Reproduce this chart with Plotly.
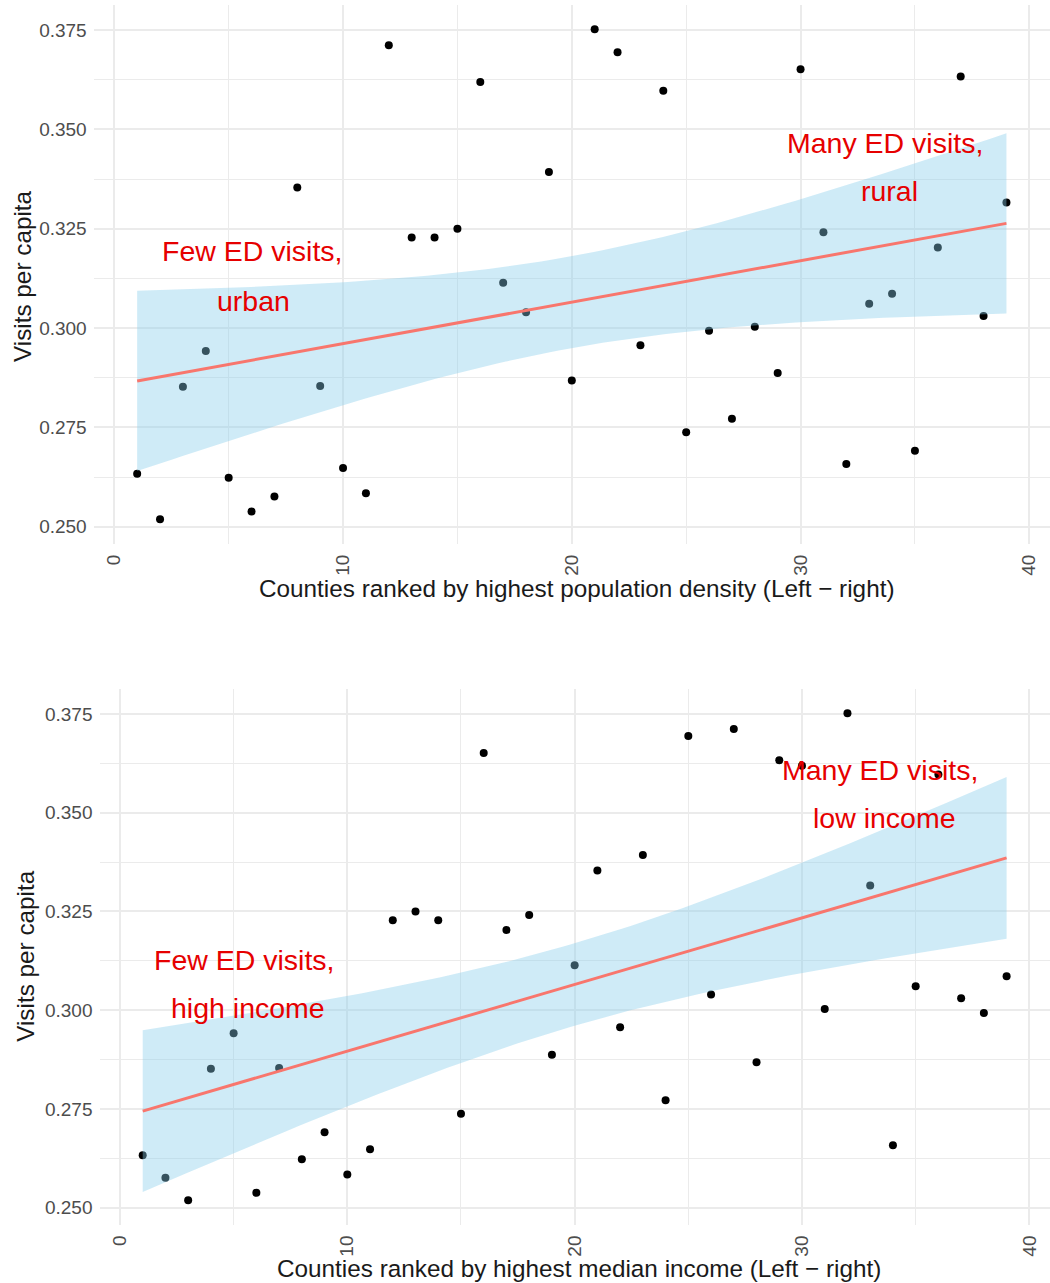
import numpy as np
import plotly.graph_objects as go

# County rank (1 = highest) along each ordering
rank = list(range(1, 40))

# ED visits per capita, counties ordered by population density (densest first)
visits_by_density = [0.2633, 0.2519, 0.2852, 0.2942, 0.2623, 0.2538, 0.2576, 0.3354, 0.2854, 0.2648,
                     0.2584, 0.3712, 0.3228, 0.3228, 0.3250, 0.3619, 0.3114, 0.3040, 0.3393, 0.2868,
                     0.3752, 0.3694, 0.2957, 0.3597, 0.2738, 0.2993, 0.2772, 0.3003, 0.2887, 0.3651,
                     0.3241, 0.2658, 0.3061, 0.3086, 0.2691, 0.3203, 0.3633, 0.3030, 0.3316]

# Same counties ordered by median household income (richest first)
visits_by_income = [0.2633, 0.2576, 0.2519, 0.2852, 0.2942, 0.2538, 0.2854, 0.2623, 0.2691, 0.2584,
                    0.2648, 0.3228, 0.3250, 0.3228, 0.2738, 0.3651, 0.3203, 0.3241, 0.2887, 0.3114,
                    0.3354, 0.2957, 0.3393, 0.2772, 0.3694, 0.3040, 0.3712, 0.2868, 0.3633, 0.3619,
                    0.3003, 0.3752, 0.3316, 0.2658, 0.3061, 0.3597, 0.3030, 0.2993, 0.3086]

x_ticks = [0, 10, 20, 30, 40]
x_minor = [5, 15, 25, 35]
y_ticks = [0.250, 0.275, 0.300, 0.325, 0.350, 0.375]
y_minor = [0.2625, 0.2875, 0.3125, 0.3375, 0.3625]

x_titles = ["Counties ranked by highest population density (Left \u2212 right)",
            "Counties ranked by highest median income (Left \u2212 right)"]
y_title = "Visits per capita"

# (text, x, y) labels placed in data coordinates
notes_density = [("Few ED visits,", 6.05, 0.3194), ("urban", 6.1, 0.3069),
                 ("Many ED visits,", 33.7, 0.3465), ("rural", 33.87, 0.3344)]
notes_income = [("Few ED visits,", 5.46, 0.3128), ("high income", 5.65, 0.3006),
                ("Many ED visits,", 33.44, 0.3608), ("low income", 33.63, 0.3487)]

T975 = 2.026  # Student t 0.975 quantile, 37 df
FONT = "Liberation Sans, Arial, sans-serif"


def lm_band(x, y, n=100):
    """Least-squares line with 95% confidence band for the mean."""
    x = np.asarray(x, float)
    y = np.asarray(y, float)
    b, a = np.polyfit(x, y, 1)
    resid = y - (a + b * x)
    s = np.sqrt((resid ** 2).sum() / (len(x) - 2))
    xg = np.linspace(x.min(), x.max(), n)
    fit = a + b * xg
    se = s * np.sqrt(1 / len(x) + (xg - x.mean()) ** 2 / ((x - x.mean()) ** 2).sum())
    return xg, fit, fit - T975 * se, fit + T975 * se


fig = go.Figure()
annotations = []

panels = [(visits_by_density, notes_density, "x", "y"),
          (visits_by_income, notes_income, "x2", "y2")]

for vals, notes, xa, ya in panels:
    fig.add_trace(go.Scatter(x=rank, y=vals, mode="markers", xaxis=xa, yaxis=ya,
                             marker=dict(color="black", size=8), showlegend=False,
                             hoverinfo="x+y"))
    xg, fit, lo, hi = lm_band(rank, vals)
    fig.add_trace(go.Scatter(x=np.concatenate([xg, xg[::-1]]),
                             y=np.concatenate([hi, lo[::-1]]),
                             mode="lines", fill="toself", xaxis=xa, yaxis=ya,
                             fillcolor="rgba(135,206,235,0.4)", line=dict(width=0),
                             showlegend=False, hoverinfo="skip"))
    fig.add_trace(go.Scatter(x=xg, y=fit, mode="lines", xaxis=xa, yaxis=ya,
                             line=dict(color="#F8766D", width=3), showlegend=False,
                             hoverinfo="skip"))
    for text, tx, ty in notes:
        annotations.append(dict(text=text, x=tx, y=ty, xref=xa, yref=ya,
                                showarrow=False, xanchor="center", yanchor="middle",
                                font=dict(family=FONT, size=28.5, color="#E60000")))

# axis titles
title_font = dict(family=FONT, size=24.3, color="#1A1A1A")
annotations += [
    dict(text=x_titles[0], x=576.5 / 1050, y=1 - 588.5 / 1283, xref="paper", yref="paper",
         showarrow=False, xanchor="center", yanchor="middle", font=title_font),
    dict(text=x_titles[1], x=579 / 1050, y=1 - 1268.3 / 1283, xref="paper", yref="paper",
         showarrow=False, xanchor="center", yanchor="middle", font=title_font),
    dict(text=y_title, x=22 / 1050, y=1 - 276 / 1283, xref="paper", yref="paper", textangle=-90,
         showarrow=False, xanchor="center", yanchor="middle", font=title_font),
    dict(text=y_title, x=26 / 1050, y=1 - 955.8 / 1283, xref="paper", yref="paper", textangle=-90,
         showarrow=False, xanchor="center", yanchor="middle", font=title_font),
]

grid = "#EBEBEB"
tick_font = dict(family=FONT, size=19, color="#4D4D4D")


def xaxis(domain, anchor):
    return dict(domain=domain, anchor=anchor, range=[-0.9, 40.9], tickmode="array",
                tickvals=x_ticks, ticktext=[str(v) for v in x_ticks], tickangle=-90,
                showgrid=True, gridcolor=grid, gridwidth=1.6, zeroline=False, showline=False,
                ticks="", tickfont=tick_font, ticklabelstandoff=6,
                minor=dict(tickmode="array", tickvals=x_minor, showgrid=True,
                           gridcolor=grid, gridwidth=0.9, ticks=""))


def yaxis(domain, anchor):
    return dict(domain=domain, anchor=anchor, range=[0.2457, 0.3814], tickmode="array",
                tickvals=y_ticks, ticktext=[f"{v:.3f}" for v in y_ticks],
                showgrid=True, gridcolor=grid, gridwidth=1.6, zeroline=False, showline=False,
                ticks="", tickfont=tick_font, ticklabelstandoff=6,
                minor=dict(tickmode="array", tickvals=y_minor, showgrid=True,
                           gridcolor=grid, gridwidth=0.9, ticks=""))


fig.update_layout(
    width=1050, height=1283,
    margin=dict(l=0, r=0, t=0, b=0),
    paper_bgcolor="white", plot_bgcolor="white",
    font=dict(family=FONT),
    xaxis=xaxis([93.7 / 1050, 1049.9 / 1050], "y"),
    yaxis=yaxis([1 - 543.8 / 1283, 1 - 4.6 / 1283], "x"),
    xaxis2=xaxis([99.5 / 1050, 1049.8 / 1050], "y2"),
    yaxis2=yaxis([1 - 1224.7 / 1283, 1 - 688.7 / 1283], "x2"),
    annotations=annotations,
    showlegend=False,
)

fig.write_html("out.html")
